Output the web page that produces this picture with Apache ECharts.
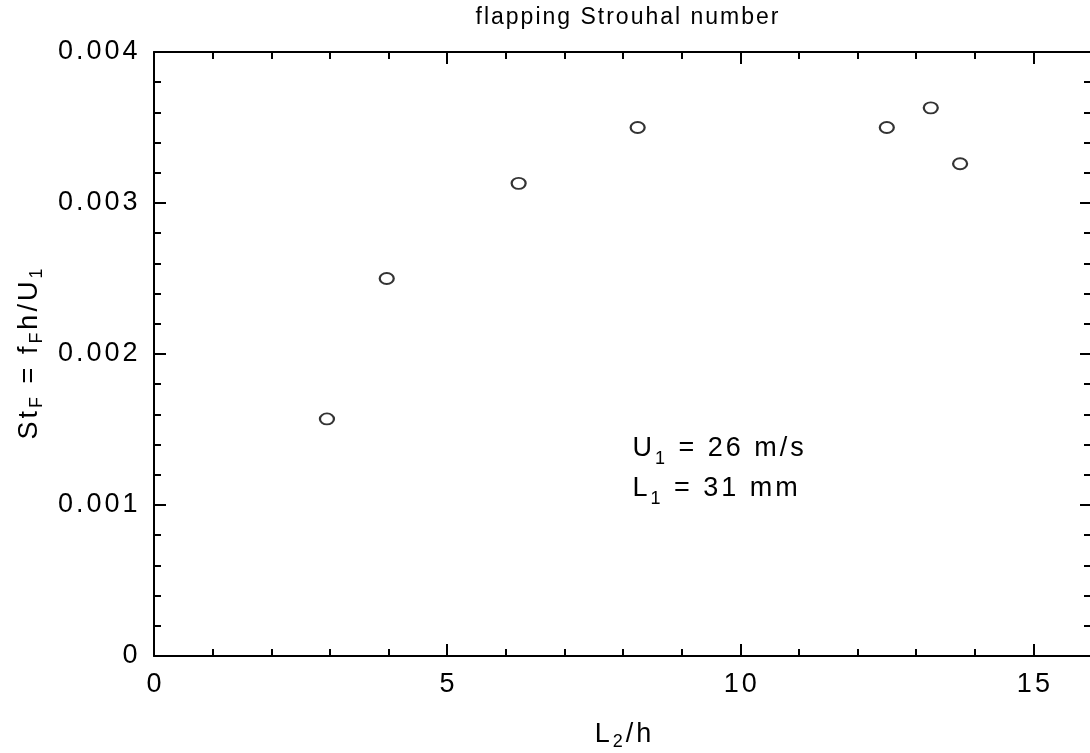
<!DOCTYPE html>
<html>
<head>
<meta charset="utf-8">
<script src="https://cdn.jsdelivr.net/npm/echarts@6/dist/echarts.min.js"></script>
<style>
  html, body { margin: 0; padding: 0; background: #fff; overflow: hidden; }
  #chart { width: 1110px; height: 753px; }
</style>
</head>
<body>
<div id="chart"></div>
<script>
// L2/h values and the flapping Strouhal number
var ratioL2h = [2.95, 3.97, 6.22, 8.25, 12.5, 13.25, 13.75];
var strouhal = [0.00157, 0.00250, 0.00313, 0.00350, 0.00350, 0.00363, 0.00326];
var xTicksMajor = [0, 5, 10, 15];
var yTicks = [0, 0.001, 0.002, 0.003, 0.004];

var font = 'Liberation Sans, Arial, Helvetica, sans-serif';
var ink = '#000';

var points = ratioL2h.map(function (x, i) { return [x, strouhal[i]]; });

// wraps each character in a rich token so the wide letter spacing of the original can be mimicked
function spaced(parts) {
    return parts.map(function (p) {
        return p[0].split('').map(function (c) { return '{' + p[1] + '|' + c + '}'; }).join('');
    }).join('');
}

function richSet(size, subSize, pad, lh) {
    return {
        m: { fontSize: size, fontFamily: font, fontWeight: 'normal', color: ink, padding: [0, pad, 0, pad], verticalAlign: 'middle', lineHeight: lh },
        s: { fontSize: subSize, fontFamily: font, fontWeight: 'normal', color: ink, padding: [0, pad, 0, pad], verticalAlign: 'bottom', lineHeight: lh }
    };
}

var labelRich = richSet(27, 18, 1.5, 32);

var chart = echarts.init(document.getElementById('chart'));

// the frame runs to x = 16, which sits just past the right edge of the window
var gridBox = { left: 154, top: 52, width: 938, bottom: 97, containLabel: false, outerBoundsMode: 'none' };

var option = {
    backgroundColor: '#fff',
    animation: false,
    title: {
        text: spaced([['flapping Strouhal number', 'm']]),
        left: 622,
        textAlign: 'center',
        top: 0,
        textStyle: { fontWeight: 'normal', rich: richSet(23, 15, 1, 26) }
    },
    grid: [
        Object.assign({}, gridBox),
        Object.assign({}, gridBox)
    ],
    xAxis: [
        { // bottom, small ticks every 1
            type: 'value', gridIndex: 0, position: 'bottom',
            min: 0, max: 16, interval: 1,
            axisLine: { show: true, onZero: false, lineStyle: { color: ink, width: 2 } },
            axisTick: { show: true, inside: true, length: 7, lineStyle: { color: ink, width: 2 } },
            axisLabel: { show: false },
            splitLine: { show: false },
            name: spaced([['L', 'm'], ['2', 's'], ['/h', 'm']]),
            nameLocation: 'middle',
            nameGap: 63,
            nameTextStyle: { rich: labelRich }
        },
        { // top, small ticks every 1
            type: 'value', gridIndex: 0, position: 'top',
            min: 0, max: 16, interval: 1,
            axisLine: { show: true, onZero: false, lineStyle: { color: ink, width: 2 } },
            axisTick: { show: true, inside: true, length: 7, lineStyle: { color: ink, width: 2 } },
            axisLabel: { show: false },
            splitLine: { show: false }
        },
        { // bottom, major ticks and labels
            type: 'value', gridIndex: 1, position: 'bottom',
            min: 0, max: 16, interval: 5,
            axisLine: { show: false, onZero: false },
            axisTick: { show: true, inside: true, length: 12, lineStyle: { color: ink, width: 2 } },
            axisLabel: {
                show: true, margin: 13, showMaxLabel: false,
                rich: labelRich,
                formatter: function (v) {
                    return xTicksMajor.indexOf(v) >= 0 ? spaced([[String(v), 'm']]) : '';
                }
            },
            splitLine: { show: false }
        },
        { // top, major ticks
            type: 'value', gridIndex: 1, position: 'top',
            min: 0, max: 16, interval: 5,
            axisLine: { show: false, onZero: false },
            axisTick: { show: true, inside: true, length: 12, lineStyle: { color: ink, width: 2 } },
            axisLabel: { show: false },
            splitLine: { show: false }
        }
    ],
    yAxis: [
        {
            type: 'value', gridIndex: 0, position: 'left',
            min: 0, max: 0.004, interval: 0.001,
            axisLine: { show: true, onZero: false, lineStyle: { color: ink, width: 2 } },
            axisTick: { show: true, inside: true, length: 12, lineStyle: { color: ink, width: 2 } },
            minorTick: { show: true, splitNumber: 5, length: 7, lineStyle: { color: ink, width: 2 } },
            axisLabel: {
                show: true, margin: 15,
                rich: labelRich,
                formatter: function (v) {
                    for (var i = 0; i < yTicks.length; i++) {
                        if (Math.abs(v - yTicks[i]) < 1e-9) {
                            return spaced([[i === 0 ? '0' : yTicks[i].toFixed(3), 'm']]);
                        }
                    }
                    return '';
                }
            },
            splitLine: { show: false },
            name: spaced([['St', 'm'], ['F', 's'], [' = f', 'm'], ['F', 's'], ['h/U', 'm'], ['1', 's']]),
            nameLocation: 'middle',
            nameRotate: 90,
            nameGap: 108,
            nameTextStyle: { rich: labelRich }
        },
        {
            type: 'value', gridIndex: 0, position: 'right',
            min: 0, max: 0.004, interval: 0.001,
            axisLine: { show: true, onZero: false, lineStyle: { color: ink, width: 2 } },
            axisTick: { show: true, inside: true, length: 12, lineStyle: { color: ink, width: 2 } },
            minorTick: { show: true, splitNumber: 5, length: 8, lineStyle: { color: ink, width: 2 } },
            axisLabel: { show: false },
            splitLine: { show: false }
        },
        {
            type: 'value', gridIndex: 1, show: false,
            min: 0, max: 0.004
        }
    ],
    graphic: [
        {
            type: 'text',
            left: 631,
            top: 435,
            style: {
                text: spaced([['U', 'm'], ['1', 's'], [' = 26 m/s', 'm']]) + '\n' +
                      spaced([['L', 'm'], ['1', 's'], [' = 31 mm', 'm']]),
                rich: richSet(27, 18, 1.5, 40)
            }
        }
    ],
    series: [
        {
            type: 'scatter',
            xAxisIndex: 0,
            yAxisIndex: 0,
            data: points,
            symbol: 'circle',
            symbolSize: [14, 11],
            itemStyle: { color: '#fff', borderColor: ink, borderWidth: 2 }
        }
    ]
};

chart.setOption(option);
</script>
</body>
</html>
